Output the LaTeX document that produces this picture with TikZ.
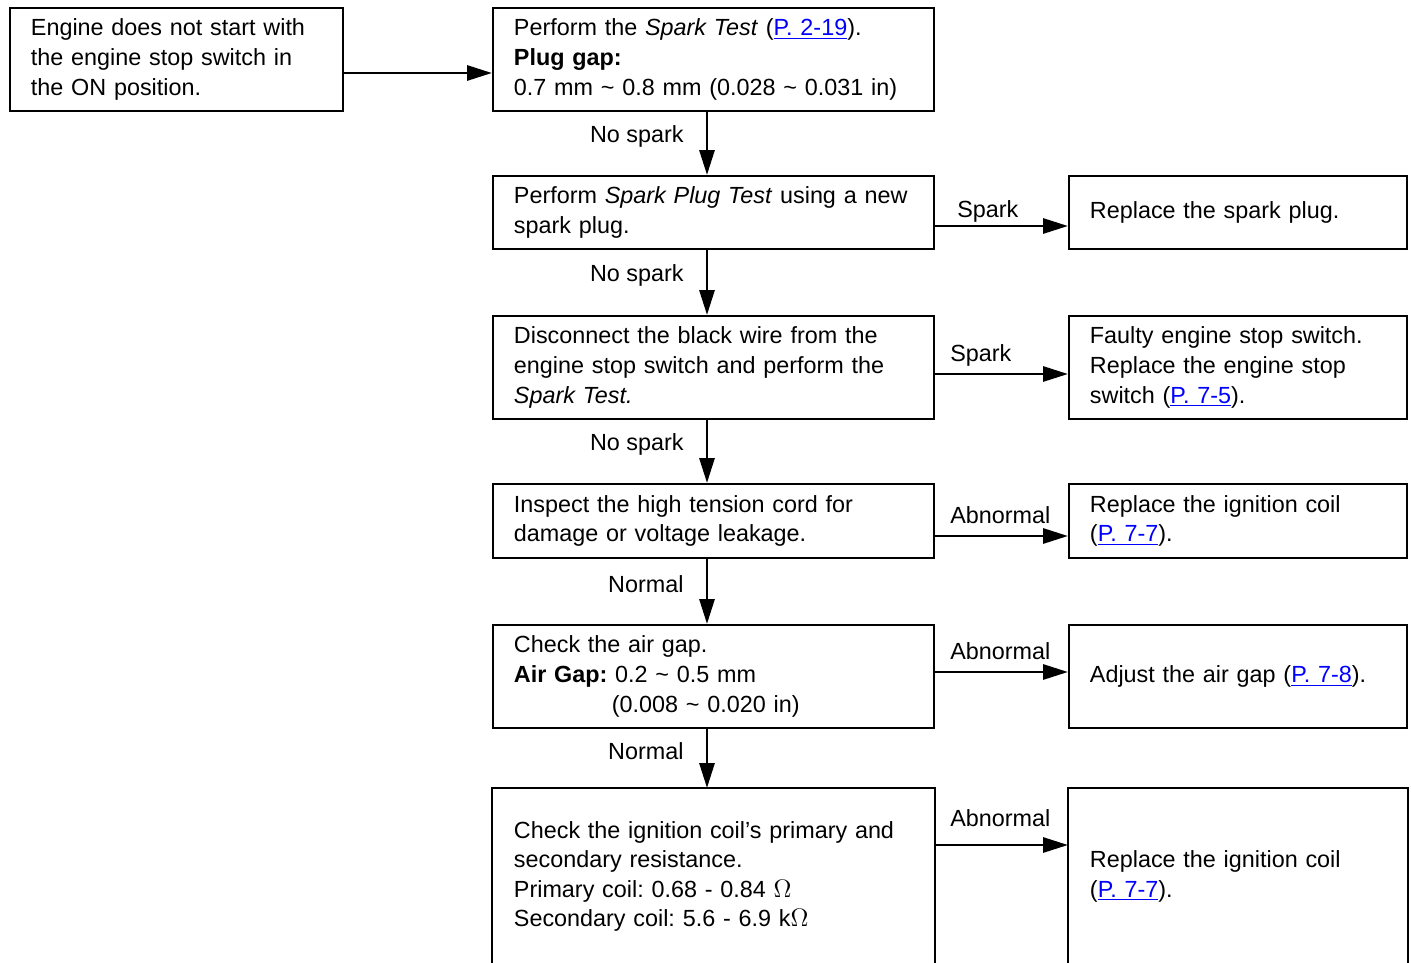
\documentclass[tikz,border=0pt]{standalone}
\usepackage{fontspec}
\setmainfont{Liberation Sans}
\usetikzlibrary{arrows.meta}
\newcommand{\pref}[1]{\textcolor{blue}{\underline{#1}}}
\newcommand{\tld}{\textasciitilde{}}
\frenchspacing

\tikzset{
	box/.style={draw, line width=1.1pt, anchor=north west, align=left, inner xsep=0.42cm, inner ysep=0pt},
	mainbox/.style={box, minimum width=8.82cm, text width=7.98cm},
	sidebox/.style={box, minimum width=6.76cm, text width=5.92cm},
	openbox/.style={mainbox, draw=none},
	vlab/.style={inner sep=0pt, anchor=east, xshift=-0.44cm, yshift=0.14cm},
	hlab/.style={inner sep=0pt, anchor=base west, xshift=0.28cm, yshift=0.26cm},
	flow/.style={-{Triangle[length=0.5cm, width=0.3cm]}, line width=1.7pt}
}

\begin{document}
\begin{tikzpicture}[x=0.02cm, y=-0.02cm, font=\fontsize{13.3}{16.8}\selectfont, line join=miter]
	\useasboundingbox (0,0) rectangle (1411,963);
	\coordinate (spine) at (707,0);
	% start box and left column
	\node[box, minimum width=6.66cm, text width=5.82cm, minimum height=2.06cm] (start) at (9,7)
		{Engine does not start with\\the engine stop switch in\\the ON position.};
	\node[mainbox, minimum height=2.06cm] (plug) at (492,7)
		{Perform the \textit{Spark Test} (\pref{P. 2-19}).\\\textbf{Plug gap:}\\0.7 mm \tld\ 0.8 mm (0.028 \tld\ 0.031 in)};
	\node[mainbox, minimum height=1.46cm] (newplug) at (492,175)
		{Perform \textit{Spark Plug Test} using a new\\spark plug.};
	\node[mainbox, minimum height=2.06cm] (wire) at (492,315)
		{Disconnect the black wire from the\\engine stop switch and perform the\\\textit{Spark Test.}};
	\node[mainbox, minimum height=1.48cm] (cord) at (492,483)
		{Inspect the high tension cord for\\damage or voltage leakage.};
	\node[mainbox, minimum height=2.06cm] (airgap) at (492,624)
		{Check the air gap.\\\textbf{Air Gap:} 0.2 \tld\ 0.5 mm\\\hspace*{1.96cm}(0.008 \tld\ 0.020 in)};
	\node[openbox, minimum height=3.5cm] (coil) at (492,788)
		{Check the ignition coil’s primary and\\secondary resistance.\\Primary coil: 0.68 - 0.84 $\Omega$\\Secondary coil: 5.6 - 6.9 k$\Omega$};
	\draw[line width=1.1pt] (coil.south west) |- (coil.north east) -- (coil.south east);
	% right column
	\node[sidebox, minimum height=1.46cm] (rplug) at (1068,175) {Replace the spark plug.};
	\node[sidebox, minimum height=2.06cm] (rswitch) at (1068,315)
		{Faulty engine stop switch.\\Replace the engine stop\\switch (\pref{P. 7-5}).};
	\node[sidebox, minimum height=1.48cm] (rcoil) at (1068,483)
		{Replace the ignition coil\\(\pref{P. 7-7}).};
	\node[sidebox, minimum height=2.06cm] (radjust) at (1068,624)
		{Adjust the air gap (\pref{P. 7-8}).};
	\node[sidebox, minimum height=3.5cm, draw=none] (rcoilb) at (1068,788)
		{Replace the ignition coil\\(\pref{P. 7-7}).};
	\draw[line width=1.1pt] (rcoilb.south west) |- (rcoilb.north east) -- (rcoilb.south east);
	% arrows down
	\draw[flow] (start.east |- 0,73) -- (plug.west |- 0,73);
	\draw[flow] (plug.south -| spine) -- node[vlab] (l1) {No spark} (newplug.north -| spine);
	\draw[flow] (newplug.south -| spine) -- node[vlab] (l2) {No spark} (wire.north -| spine);
	\draw[flow] (wire.south -| spine) -- node[vlab] (l3) {No spark} (cord.north -| spine);
	\draw[flow] (cord.south -| spine) -- node[vlab] (l4) {Normal} (airgap.north -| spine);
	\draw[flow] (airgap.south -| spine) -- node[vlab] (l5) {Normal} (coil.north -| spine);
	% arrows right
	\draw[flow] (newplug.east |- 0,226) node[hlab, xshift=0.14cm, yshift=-0.08cm] (r1) {Spark} -- (rplug.west |- 0,226);
	\draw[flow] (wire.east |- 0,374) node[hlab] (r2) {Spark} -- (rswitch.west |- 0,374);
	\draw[flow] (cord.east |- 0,536) node[hlab] (r3) {Abnormal} -- (rcoil.west |- 0,536);
	\draw[flow] (airgap.east |- 0,672) node[hlab] (r4) {Abnormal} -- (radjust.west |- 0,672);
	\draw[flow] (coil.east |- 0,845) node[hlab, yshift=0.12cm] (r5) {Abnormal} -- (rcoilb.west |- 0,845);
\end{tikzpicture}
\end{document}
